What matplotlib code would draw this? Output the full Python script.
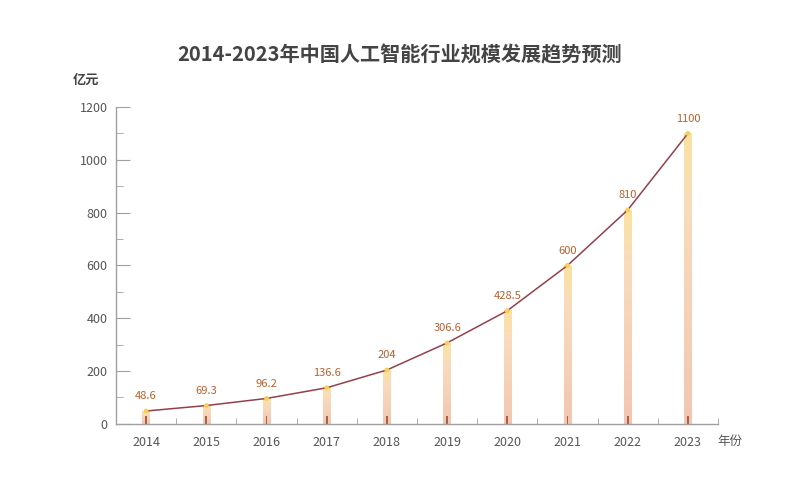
import numpy as np
import matplotlib.pyplot as plt
from matplotlib.colors import LinearSegmentedColormap

plt.rcParams['font.family'] = ['Noto Sans CJK SC', 'DejaVu Sans']

years = ['2014', '2015', '2016', '2017', '2018', '2019', '2020', '2021', '2022', '2023']
values = [48.6, 69.3, 96.2, 136.6, 204, 306.6, 428.5, 600, 810, 1100]
labels = ['48.6', '69.3', '96.2', '136.6', '204', '306.6', '428.5', '600', '810', '1100']

fig = plt.figure(figsize=(8, 4.8), dpi=100)
ax = fig.add_axes([0.145, 0.117, 0.7525, 0.66])

x = np.arange(len(years))
ax.set_xlim(-0.5, len(years) - 0.5)
ax.set_ylim(0, 1200)

# gradient bars: yellow at the top, pale pink below
cmap = LinearSegmentedColormap.from_list(
    'bar', [(0, '#fbe2a0'), (0.25, '#f8dcbc'), (1, '#f2c6b2')])
grad = np.linspace(0, 1, 256).reshape(-1, 1)
bw = 0.062
for xi, v in zip(x, values):
    ax.imshow(grad, cmap=cmap, aspect='auto', origin='upper',
              extent=(xi - bw, xi + bw, 0, v), zorder=1)
    ax.bar(xi, 28, width=0.03, color='#a8624a', zorder=2)

ax.plot(x, values, color='#93404a', lw=1.1, zorder=3)
ax.scatter(x, values, s=12, color='#f6cf5a', edgecolors='none', zorder=4)

for xi, v, t in zip(x, values, labels):
    ax.annotate(t, (xi, v), xytext=(0, 7), textcoords='offset points',
                ha='center', va='bottom', fontsize=8, color='#b8602f')

ax.set_xticks(x)
ax.set_xticklabels(years)
ax.set_xticks(np.arange(-0.5, len(years), 1.0)[1:], minor=True)
ax.set_yticks(np.arange(0, 1201, 200))
ax.set_yticks(np.arange(100, 1200, 200), minor=True)

for s in ['top', 'right']:
    ax.spines[s].set_visible(False)
for s in ['left', 'bottom']:
    ax.spines[s].set_color('#a0a0a0')
    ax.spines[s].set_linewidth(1.0)

ax.tick_params(axis='y', which='major', direction='in', length=10, color='#a0a0a0',
               labelsize=9, labelcolor='#555555', pad=6)
ax.tick_params(axis='y', which='minor', direction='in', length=5, color='#a0a0a0')
ax.tick_params(axis='x', which='major', length=0, labelsize=9, labelcolor='#555555', pad=9)
ax.tick_params(axis='x', which='minor', direction='in', length=4, color='#a0a0a0')

fig.text(0.5, 0.885, '2014-2023年中国人工智能行业规模发展趋势预测', ha='center', va='center',
         fontsize=14.5, fontweight='bold', color='#444444')
fig.text(0.107, 0.833, '亿元', ha='center', va='center', fontsize=9.5,
         fontweight='bold', color='#444444')
fig.text(0.912, 0.081, '年份', ha='center', va='center', fontsize=9, color='#555555')

fig.savefig('out.png', dpi=100)
